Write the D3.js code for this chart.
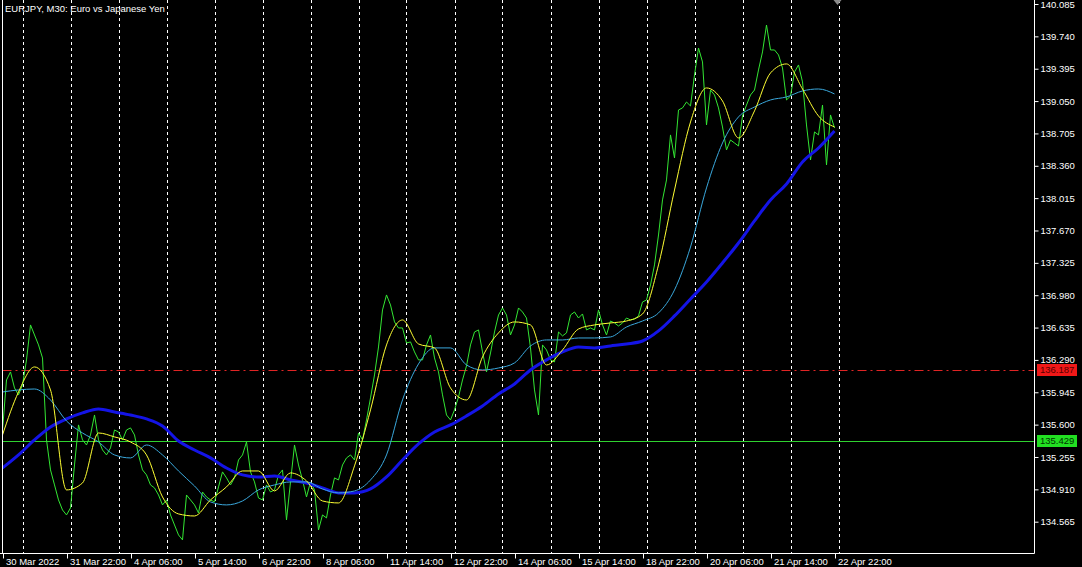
<!DOCTYPE html>
<html><head><meta charset="utf-8">
<script src="https://cdn.jsdelivr.net/npm/d3@7"></script>
<style>
html,body{margin:0;padding:0;background:#000;}
svg{display:block;}
text{font-family:"Liberation Sans",Arial,sans-serif;}
</style></head>
<body>
<svg id="c" width="1082" height="567"></svg>
<script>
// ---- data ----
const title = "EURJPY, M30:  Euro vs Japanese Yen";
// close prices, one value every 4 bars (M30), starting at bar 0 (30 Mar 2022 14:00)
const priceStep = 4;
const prices = [
135.543,136.076,136.162,135.991,135.917,136.023,136.290,136.663,136.556,136.450,
136.311,135.437,135.117,134.957,134.797,134.690,134.637,134.712,135.170,135.597,
135.437,135.383,135.490,135.703,135.437,135.330,135.277,135.352,135.543,135.522,
135.437,135.543,135.565,135.490,135.277,135.117,135.064,134.957,134.925,134.850,
134.744,134.797,134.637,134.530,134.424,134.371,134.850,134.797,134.744,134.658,
134.882,134.829,134.797,134.776,134.936,135.096,135.032,134.957,135.032,135.223,
135.277,135.415,135.096,134.989,134.818,134.797,134.957,134.882,134.904,135.064,
135.117,134.584,134.989,135.383,135.170,135.010,134.829,134.989,134.904,134.477,
134.637,134.605,134.850,135.032,135.010,135.170,135.245,135.277,135.223,135.511,
135.437,135.650,135.885,136.130,136.428,136.823,136.983,136.876,136.695,136.631,
136.631,136.471,136.482,136.375,136.290,136.290,136.450,136.556,136.311,136.162,
135.917,135.703,135.650,135.757,135.895,136.076,136.226,136.450,136.588,136.610,
136.375,136.162,136.364,136.588,136.769,136.844,136.769,136.556,136.663,136.844,
136.801,136.737,136.418,135.970,135.703,136.450,136.396,136.290,136.268,136.588,
136.546,136.578,136.769,136.801,136.737,136.780,136.610,136.631,136.610,136.823,
136.663,136.556,136.705,136.684,136.652,136.684,136.737,136.716,136.727,136.759,
136.908,136.929,137.089,137.303,137.622,137.996,138.209,138.689,138.443,138.955,
138.977,139.040,138.998,139.328,139.616,139.467,138.795,139.168,139.115,138.977,
138.774,138.529,138.635,138.603,138.571,138.891,139.008,139.115,139.168,139.382,
139.574,139.861,139.595,139.595,139.542,139.403,139.062,139.104,139.360,139.435,
139.254,138.795,138.422,138.721,138.689,139.008,138.369,138.902,138.763
];
// moving averages, one value every 16 bars
const maStep = 16;
const maFast = [
135.490,135.948,136.215,135.970,134.904,134.978,135.511,135.469,135.415,135.277,
134.829,134.648,134.626,134.797,134.936,135.106,135.106,134.893,135.085,135.000,
134.786,134.765,135.160,135.757,136.450,136.716,136.460,136.418,135.991,135.863,
136.322,136.578,136.695,136.663,136.236,136.396,136.620,136.663,136.684,136.705,
136.780,137.303,138.102,138.827,139.190,139.051,138.657,138.945,139.350,139.446,
139.179,138.891,138.774
];
const maMid = [
135.948,135.970,135.980,135.863,135.639,135.511,135.415,135.277,135.245,135.383,
135.277,135.106,134.946,134.776,134.744,134.786,134.904,134.957,134.989,134.989,
134.914,134.872,134.893,135.010,135.277,135.863,136.247,136.418,136.418,136.236,
136.183,136.204,136.258,136.439,136.503,136.503,136.524,136.524,136.535,136.641,
136.705,136.791,137.036,137.494,138.124,138.603,138.881,138.987,139.062,139.094,
139.158,139.179,139.126
];
const maSlow = [
135.138,135.277,135.437,135.575,135.661,135.725,135.767,135.735,135.703,135.661,
135.586,135.426,135.330,135.245,135.138,135.064,135.042,135.053,135.010,134.978,
134.925,134.872,134.872,134.914,135.042,135.223,135.394,135.522,135.597,135.693,
135.799,135.927,136.034,136.183,136.290,136.375,136.428,136.418,136.439,136.460,
136.492,136.599,136.759,136.940,137.121,137.324,137.537,137.772,137.996,138.166,
138.401,138.550,138.731
];
const yTicks = [134.565,134.910,135.255,135.600,135.945,136.290,136.635,136.980,137.325,137.670,138.015,138.360,138.705,139.050,139.395,139.740,140.085];
const xTickBars = [0,64,128,192,256,320,384,448,512,576,640,704,768,832];
const xTickLabels = ["30 Mar 2022","31 Mar 22:00","4 Apr 06:00","5 Apr 14:00","6 Apr 22:00","8 Apr 06:00","11 Apr 14:00","12 Apr 22:00","14 Apr 06:00","15 Apr 14:00","18 Apr 22:00","20 Apr 06:00","21 Apr 14:00","22 Apr 22:00"];
const daySepBars = [20,68,116,164,212,260,308,356,404,452,500,548,596,644,692,740,788,836];
const askLevel = 136.187;
const bidLevel = 135.429;

// ---- layout ----
const svg = d3.select("#c");
const W = 1082, H = 567;
const plotL = 2.5, plotR = 1034.5, plotB = 553.5;
svg.append("rect").attr("width",W).attr("height",H).attr("fill","#000");

const x = d3.scaleLinear().domain([0, 1032]).range([plotL, plotL + 1032]);
const y = d3.scaleLinear().domain([134.565, 140.085]).range([521.7, 4]);

svg.append("defs").append("clipPath").attr("id","clip")
  .append("rect").attr("x",plotL).attr("y",0).attr("width",plotR-plotL).attr("height",plotB);

const g = svg.append("g").attr("clip-path","url(#clip)");

// day separators (dashed)
g.selectAll("line.grid").data(daySepBars).enter().append("line")
  .attr("class","grid")
  .attr("x1",d=>Math.round(x(d))+0.5).attr("x2",d=>Math.round(x(d))+0.5)
  .attr("y1",0).attr("y2",plotB)
  .attr("stroke","#ffffff").attr("stroke-width",1).attr("stroke-dasharray","3,3");

// level lines
g.append("line").attr("x1",plotL).attr("x2",plotR).attr("y1",Math.round(y(askLevel))+0.5).attr("y2",Math.round(y(askLevel))+0.5)
  .attr("stroke","#e02424").attr("stroke-width",1).attr("stroke-dasharray","9,4,2,4");
g.append("line").attr("x1",plotL).attr("x2",plotR).attr("y1",Math.round(y(bidLevel))+0.5).attr("y2",Math.round(y(bidLevel))+0.5)
  .attr("stroke","#2fd12f").attr("stroke-width",1);

function drawSeries(arr, step, color, width, curve){
  const line = d3.line().x((d,i)=>x(i*step)).y(d=>y(d)).curve(curve);
  g.append("path").datum(arr).attr("d",line).attr("fill","none")
    .attr("stroke",color).attr("stroke-width",width).attr("stroke-linejoin","round");
}
drawSeries(prices, priceStep, "#33e633", 1, d3.curveLinear);
drawSeries(maSlow, maStep, "#1414e6", 3, d3.curveMonotoneX);
drawSeries(maMid, maStep, "#3aa8dc", 1, d3.curveMonotoneX);
drawSeries(maFast, maStep, "#ffff33", 1, d3.curveMonotoneX);

// borders
svg.append("line").attr("x1",plotL).attr("x2",plotL).attr("y1",0).attr("y2",plotB).attr("stroke","#fff");
svg.append("line").attr("x1",plotR).attr("x2",plotR).attr("y1",0).attr("y2",plotB).attr("stroke","#fff");
svg.append("line").attr("x1",0).attr("x2",plotR).attr("y1",plotB).attr("y2",plotB).attr("stroke","#fff");

// x axis
const xAxis = d3.axisBottom(x).tickValues(xTickBars)
  .tickFormat((d,i)=>xTickLabels[i]).tickSize(5).tickSizeOuter(0).tickPadding(1);
const gx = svg.append("g").attr("transform",`translate(0,${plotB})`).call(xAxis);
gx.select(".domain").remove();
gx.selectAll(".tick line").attr("stroke","#fff").attr("transform","translate(0.5,0)");
gx.selectAll(".tick text").attr("fill","#fff").attr("font-size","9.5px")
  .attr("text-anchor","start").attr("x",3).attr("dy","0.62em")
  .attr("font-family","'Liberation Sans',Arial,sans-serif");

// y axis
const yAxis = d3.axisRight(y).tickValues(yTicks).tickFormat(d3.format(".3f"))
  .tickSize(4).tickSizeOuter(0).tickPadding(2);
const gy = svg.append("g").attr("transform",`translate(${plotR},0)`).call(yAxis);
gy.select(".domain").remove();
gy.selectAll(".tick line").attr("stroke","#fff");
gy.selectAll(".tick text").attr("fill","#fff").attr("font-size","9.5px")
  .attr("font-family","'Liberation Sans',Arial,sans-serif");

// price tags
function tag(level, bg, fg){
  const yy = Math.round(y(level));
  svg.append("rect").attr("x",1037).attr("y",yy-6).attr("width",40).attr("height",12).attr("fill",bg);
  svg.append("text").attr("x",1040).attr("y",yy).attr("dy","0.35em").attr("fill",fg)
    .attr("font-size","9.5px").text(d3.format(".3f")(level));
}
tag(askLevel, "#f01818", "#5a0000");
tag(bidLevel, "#22e022", "#003300");

// chart shift marker
const shiftX = x(835);
svg.append("path").attr("d",`M${shiftX-4},0 L${shiftX+4},0 L${shiftX},5 Z`).attr("fill","#8a8a8a");

// title
svg.append("text").attr("x",5).attr("y",12).attr("fill","#fff").attr("font-size","9.5px").text(title);
</script>
</body></html>
